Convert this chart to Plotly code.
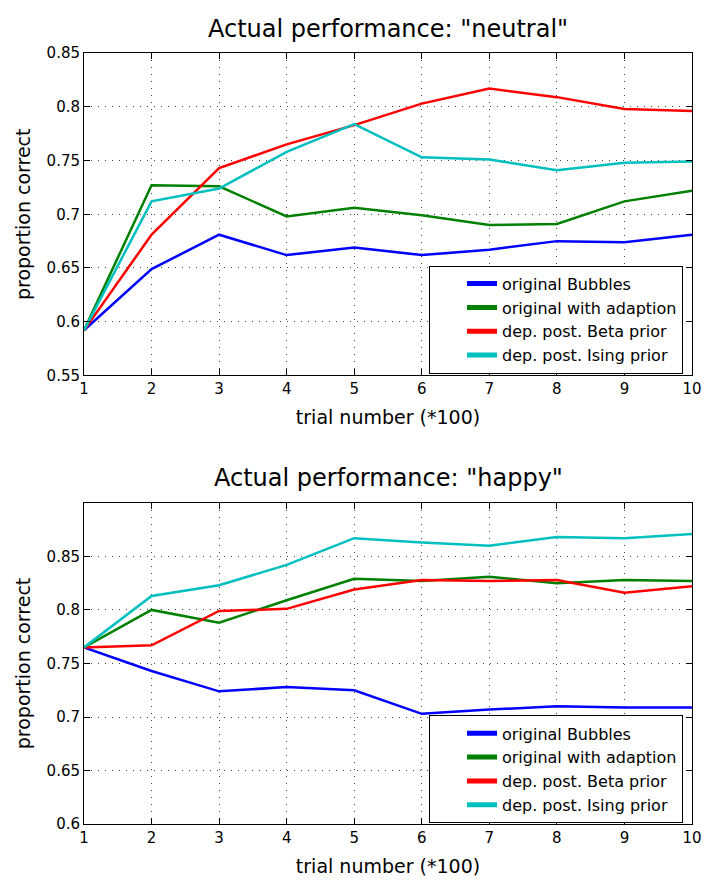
import plotly.graph_objects as go
from plotly.subplots import make_subplots

trials = [1, 2, 3, 4, 5, 6, 7, 8, 9, 10]
series_names = ["original Bubbles", "original with adaption",
                "dep. post. Beta prior", "dep. post. Ising prior"]
colors = ["#0000ff", "#008000", "#ff0000", "#00bfbf"]

neutral_bubbles = [0.592, 0.649, 0.681, 0.662, 0.669, 0.662, 0.667, 0.675, 0.674, 0.681]
neutral_adapt = [0.592, 0.727, 0.726, 0.698, 0.706, 0.699, 0.690, 0.691, 0.712, 0.722]
neutral_beta = [0.592, 0.681, 0.743, 0.765, 0.783, 0.803, 0.817, 0.809, 0.798, 0.796]
neutral_ising = [0.592, 0.712, 0.724, 0.758, 0.784, 0.753, 0.751, 0.741, 0.748, 0.749]

happy_bubbles = [0.765, 0.743, 0.724, 0.728, 0.725, 0.703, 0.707, 0.710, 0.709, 0.709]
happy_adapt = [0.765, 0.800, 0.788, 0.809, 0.829, 0.827, 0.831, 0.825, 0.828, 0.827]
happy_beta = [0.765, 0.767, 0.799, 0.801, 0.819, 0.828, 0.827, 0.828, 0.816, 0.822]
happy_ising = [0.765, 0.813, 0.823, 0.842, 0.867, 0.863, 0.860, 0.868, 0.867, 0.871]

titles = ['Actual performance: "neutral"', 'Actual performance: "happy"']
x_label = "trial number (*100)"
y_label = "proportion correct"
x_ticks = [1, 2, 3, 4, 5, 6, 7, 8, 9, 10]
y_ticks_top = [0.55, 0.6, 0.65, 0.7, 0.75, 0.8, 0.85]
y_ticks_bottom = [0.6, 0.65, 0.7, 0.75, 0.8, 0.85]
y_range_top = [0.55, 0.85]
y_range_bottom = [0.6, 0.9]

FONT = "DejaVu Sans, sans-serif"
W, H = 706, 890

fig = make_subplots(rows=2, cols=1)

top_sets = [neutral_bubbles, neutral_adapt, neutral_beta, neutral_ising]
bot_sets = [happy_bubbles, happy_adapt, happy_beta, happy_ising]
for name, c, ys in zip(series_names, colors, top_sets):
    fig.add_trace(go.Scatter(x=trials, y=ys, mode="lines", name=name,
                             line=dict(color=c, width=2.5), legend="legend"),
                  row=1, col=1)
for name, c, ys in zip(series_names, colors, bot_sets):
    fig.add_trace(go.Scatter(x=trials, y=ys, mode="lines", name=name,
                             line=dict(color=c, width=2.5), legend="legend2"),
                  row=2, col=1)

# pixel layout
L, R = 84, 692
top_y0, top_y1 = 45, 374
bot_y0, bot_y1 = 504, 832


def ydom(a, b):
    return [(H - b) / H, (H - a) / H]


axis_common = dict(
    showline=True, linecolor="black", linewidth=1, mirror="ticks",
    ticks="inside", ticklen=6, tickcolor="black",
    showgrid=True, gridcolor="#444", griddash="1px,6px", gridwidth=1,
    zeroline=False, tickfont=dict(family=FONT, size=15, color="black"),
)

fig.update_xaxes(**axis_common, range=[1, 10], tickvals=x_ticks,
                 ticktext=[str(t) for t in x_ticks], domain=[0, 1])
fig.update_xaxes(title=dict(text=x_label, font=dict(family=FONT, size=19, color="black"),
                            standoff=13))
fig.update_yaxes(**axis_common)
fig.update_yaxes(row=1, col=1, range=y_range_top, tickvals=y_ticks_top,
                 ticktext=[f"{v:g}" for v in y_ticks_top],
                 domain=ydom(top_y0, top_y1))
fig.update_yaxes(row=2, col=1, range=y_range_bottom, tickvals=y_ticks_bottom,
                 ticktext=[f"{v:g}" for v in y_ticks_bottom],
                 domain=ydom(bot_y0, bot_y1))
fig.update_yaxes(title=dict(text=y_label, font=dict(family=FONT, size=19, color="black"),
                            standoff=10))

legend_common = dict(
    bgcolor="white", bordercolor="black", borderwidth=1,
    font=dict(family=FONT, size=16, color="black"),
    xanchor="right", yanchor="top", tracegroupgap=0,
    itemsizing="constant", indentation=32,
)
fig.update_layout(
    legend=dict(**legend_common, x=(683 - L) / (R - L), y=(H - 262) / H),
    legend2=dict(**legend_common, x=(683 - L) / (R - L), y=(H - 721) / H),
)

for t, yc in zip(titles, [20, 479]):
    fig.add_annotation(text=t, xref="paper", yref="paper", x=0.5,
                       y=(H - yc) / H, xanchor="center", yanchor="middle",
                       showarrow=False,
                       font=dict(family=FONT, size=24, color="black"))

fig.update_layout(
    width=W, height=H,
    margin=dict(l=L, r=W - R, t=0, b=0),
    paper_bgcolor="white", plot_bgcolor="white",
    showlegend=True,
)

fig.write_html("out.html")
